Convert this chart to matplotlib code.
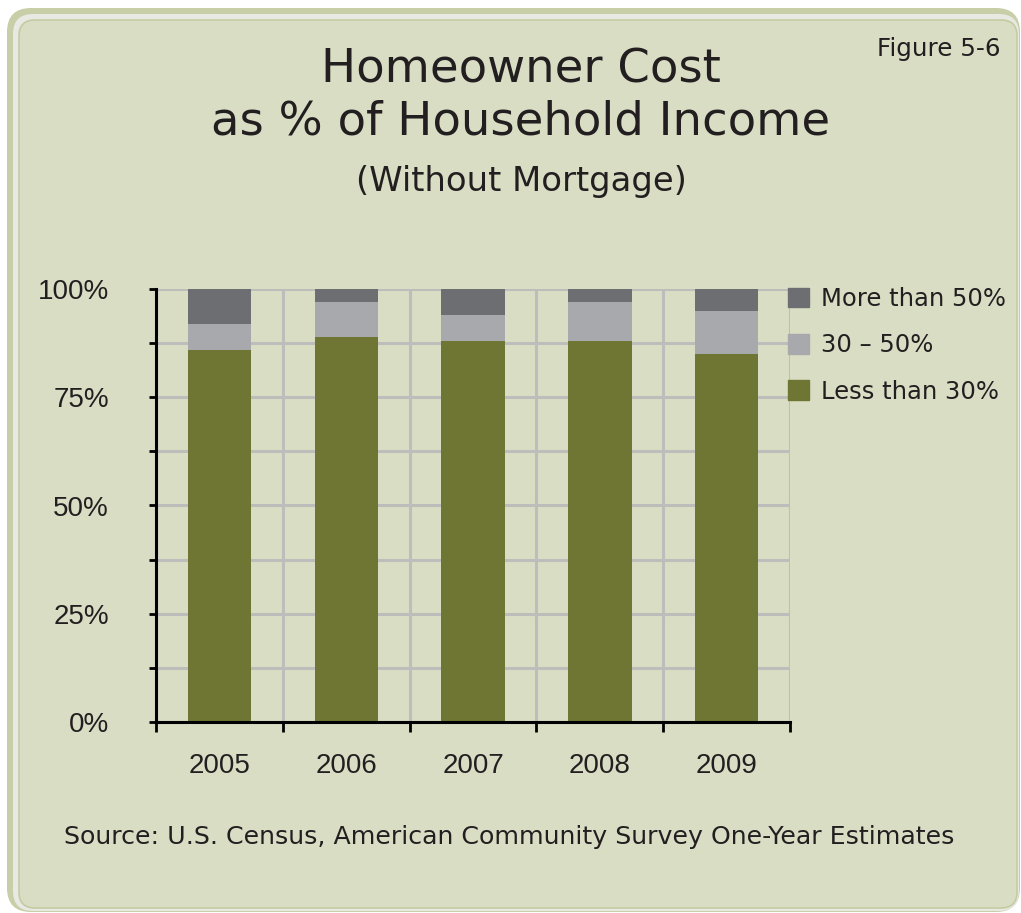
import matplotlib
matplotlib.use("Agg")
import matplotlib.pyplot as plt
from matplotlib.patches import FancyBboxPatch, Patch

# =========================
# データ
# =========================
years = ["2005", "2006", "2007", "2008", "2009"]
less_30 = [86, 89, 88, 88, 85]
mid_30_50 = [6, 8, 6, 9, 10]
more_50 = [8, 3, 6, 3, 5]
y_ticks = [0, 25, 50, 75, 100]
y_tick_labels = ["0%", "25%", "50%", "75%", "100%"]

c_green = "#6F7532"
c_light = "#A8A9AC"
c_dark = "#6D6E72"
c_bg = "#D9DDC4"

W, H = 1021, 913
fig = plt.figure(figsize=(W / 100, H / 100), dpi=100)
fig.patch.set_facecolor("white")

# =========================
# 枠
# =========================
def px_box(x0, y0, x1, y1, fc, ec="none", lw=0, r=18, z=-10):
    box = FancyBboxPatch((x0 / W, 1 - y1 / H), (x1 - x0) / W, (y1 - y0) / H,
                         boxstyle="round,pad=0,rounding_size=%f" % (r / W),
                         transform=fig.transFigure, fc=fc, ec=ec, lw=lw,
                         mutation_aspect=W / H, zorder=z)
    fig.patches.append(box)

px_box(7, 8, 1020, 912, "#C8CEA7", r=24, z=-12)
px_box(13, 14, 1019, 911, "#E7E9E2", r=20, z=-11)
px_box(19, 20, 1017, 908, c_bg, ec="#C4CBA3", lw=1.2, r=16, z=-10)

# =========================
# タイトル
# =========================
tfont = "DejaVu Sans"
tc = "#231F20"
fig.text(521 / W, 1 - 70 / H, "Homeowner Cost", ha="center", va="center",
         fontsize=33.5, family=tfont, color=tc)
fig.text(521 / W, 1 - 122 / H, "as % of Household Income", ha="center", va="center",
         fontsize=33.5, family=tfont, color=tc)
fig.text(521 / W, 1 - 181 / H, "(Without Mortgage)", ha="center", va="center",
         fontsize=24.4, family=tfont, color=tc)
fig.text(1000 / W, 1 - 49 / H, "Figure 5-6", ha="right", va="center",
         fontsize=17.7, family=tfont, color=tc)
fig.text(509 / W, 1 - 837 / H,
         "Source: U.S. Census, American Community Survey One-Year Estimates",
         ha="center", va="center", fontsize=18.2, family=tfont, color=tc)

# =========================
# グラフ
# =========================
ax = fig.add_axes([156 / W, 1 - 722 / H, 634 / W, 433 / H])
ax.set_facecolor("none")
x = range(len(years))
bottom2 = [a + b for a, b in zip(less_30, mid_30_50)]
ax.bar(x, less_30, width=0.5, color=c_green, label="Less than 30%", zorder=3)
ax.bar(x, mid_30_50, width=0.5, bottom=less_30, color=c_light, label="30 \u2013 50%", zorder=3)
ax.bar(x, more_50, width=0.5, bottom=bottom2, color=c_dark, label="More than 50%", zorder=3)

ax.set_xlim(-0.5, len(years) - 0.5)
ax.set_ylim(0, 100)

bounds = [i - 0.5 for i in range(len(years) + 1)]
ax.set_xticks(bounds)
ax.set_xticklabels([])
ax.set_xticks(list(x), minor=True)
ax.set_xticklabels(years, minor=True, fontsize=20, family="Liberation Sans", color=tc)
ax.tick_params(axis="x", which="major", length=7, width=2, direction="out")
ax.tick_params(axis="x", which="minor", length=0, pad=22)

ax.set_yticks(y_ticks)
ax.set_yticklabels(y_tick_labels, fontsize=20, family="Liberation Sans", color=tc)
ax.set_yticks([12.5, 37.5, 62.5, 87.5], minor=True)
ax.tick_params(axis="y", which="both", length=5, width=2, direction="out", pad=29)

ax.grid(True, which="both", axis="y", color="#BDBDBB", lw=2.2, zorder=1)
ax.grid(True, which="major", axis="x", color="#BDBDBB", lw=2.2, zorder=1)
ax.spines["top"].set_visible(False)
ax.spines["right"].set_visible(False)
ax.spines["left"].set_linewidth(2.2)
ax.spines["bottom"].set_linewidth(2.2)
ax.spines["left"].set_zorder(4)
ax.spines["bottom"].set_zorder(4)

handles = [Patch(color=c_dark), Patch(color=c_light), Patch(color=c_green)]
labels = ["More than 50%", "30 \u2013 50%", "Less than 30%"]
leg = fig.legend(handles, labels, loc="upper left",
                 bbox_to_anchor=(766 / W, 1 - 265 / H), frameon=False,
                 prop={"family": tfont, "size": 17.5}, handlelength=0.85,
                 handleheight=0.85, handletextpad=0.5, labelspacing=0.92,
                 labelcolor=tc)

plt.savefig("out.png", dpi=100, facecolor=fig.get_facecolor())
